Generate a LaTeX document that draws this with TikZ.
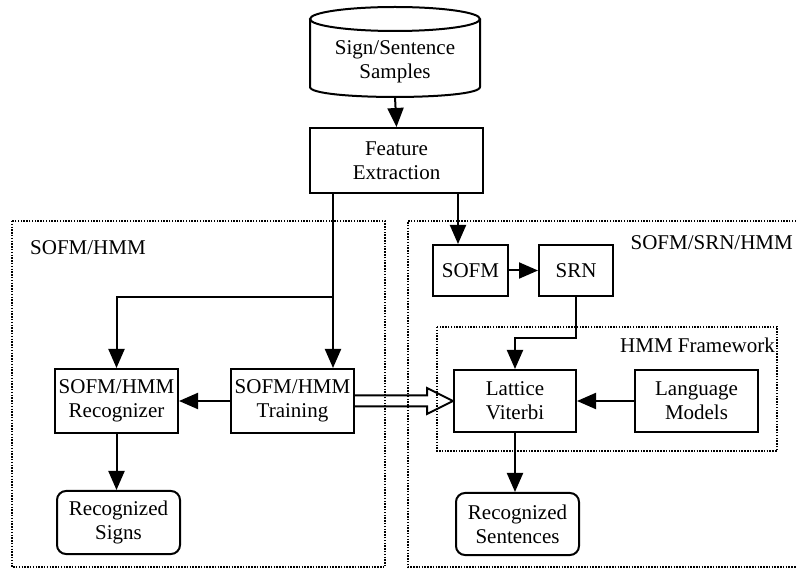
\documentclass[tikz,border=0pt]{standalone}
\usepackage{fontspec}
\setmainfont{Liberation Serif}
\usetikzlibrary{arrows.meta,calc}
\begin{document}
\begin{tikzpicture}[x=1pt,y=-1pt,
  every node/.style={font=\fontsize{21}{24}\selectfont, align=center, inner sep=0pt},
  blk/.style={draw, line width=2pt, minimum width=#1},
  blk/.default=123pt,
  arr/.style={line width=2pt, -{Triangle[length=19pt,width=16pt]}},
  dots/.style={line width=1.6pt, dash pattern=on 1.5pt off 1.3pt},
]
\useasboundingbox (0,0) rectangle (796,569);

% dotted groups
\draw[dots] (12,221) rectangle (385,567);
\draw[dots] (796,221) -- (408,221) -- (408,567) -- (796,567);
\draw[dots] (437,327) rectangle (777,451);
\node[anchor=west] (lblA) at (30,248) {SOFM/HMM};
\node[anchor=east] (lblB) at (793,243) {SOFM/SRN/HMM};
\node[anchor=east] (lblC) at (775,345) {HMM Framework};

% cylinder
\draw[line width=2pt] (395,19) ellipse [x radius=85, y radius=12];
\draw[line width=2pt] (310,19) -- (310,87) .. controls (310,100.3) and (480,100.3) .. (480,87) -- (480,19);
\node (db) at (395,62) {Sign/Sentence\\Samples};
\coordinate (dbb) at (395,97);

% boxes
\node[blk=173pt, minimum height=65pt] (fe) at (396.5,160.5) {Feature\\Extraction};
\node[blk, minimum height=64pt] (rec) at (116.5,401) {SOFM/HMM\\Recognizer};
\node[blk, minimum height=64pt] (trn) at (292.5,401) {SOFM/HMM\\Training};
\node[blk, minimum height=63pt, rounded corners=9pt] (signs) at (118.5,522.5) {Recognized\\Signs};
\node[blk=75pt, minimum height=51pt] (sofm) at (470.5,270.5) {SOFM};
\node[blk=74pt, minimum height=51pt] (srn) at (576,270.5) {SRN};
\node[blk=122pt, minimum height=62pt] (lat) at (515,401) {Lattice\\Viterbi};
\node[blk, minimum height=62pt] (lm) at (696.5,401) {Language\\Models};
\node[blk, minimum height=62pt, rounded corners=9pt] (sent) at (517.5,524) {Recognized\\Sentences};

% connectors
\coordinate (c1) at (333,297);
\coordinate (c2) at (458,0);
\coordinate (c3) at (0,338);
\draw[arr] (dbb) -- (fe.north);
\draw[arr] (c1 |- fe.south) -- (c1 |- trn.north);
\draw[arr] (c1) -| (rec.north);
\draw[arr] (c2 |- fe.south) -- (c2 |- sofm.north);
\draw[arr] (trn.west) -- (rec.east);
\draw[arr] (rec.south) -- (rec.south |- signs.north);
\draw[arr] (sofm.east) -- (srn.west);
\draw[arr] (srn.south) -- (srn.south |- c3) -| (lat.north);
\draw[arr] (lm.west) -- (lat.east);
\draw[arr] (lat.south) -- (lat.south |- sent.north);

% hollow arrow
\draw[line width=2pt, line join=miter]
  ($(trn.east)+(0,-5.5)$) -- ($(lat.west)+(-26,-5.5)$) -- ($(lat.west)+(-26,-13)$)
  -- (lat.west) -- ($(lat.west)+(-26,13)$) -- ($(lat.west)+(-26,5.5)$) -- ($(trn.east)+(0,5.5)$);
\end{tikzpicture}
\end{document}
